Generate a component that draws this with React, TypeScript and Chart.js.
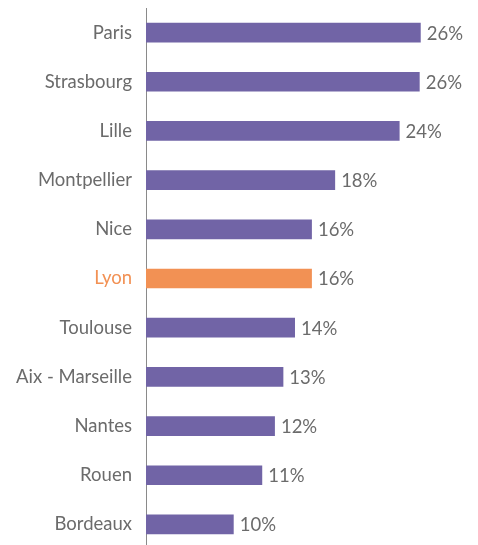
import React, { useEffect, useRef } from "react";
import { Chart, registerables } from "chart.js";

Chart.register(...registerables);

const cities = [
  "Paris",
  "Strasbourg",
  "Lille",
  "Montpellier",
  "Nice",
  "Lyon",
  "Toulouse",
  "Aix - Marseille",
  "Nantes",
  "Rouen",
  "Bordeaux",
];
const shares = [26.0, 25.9, 24.0, 17.9, 15.7, 15.7, 14.1, 13.0, 12.2, 11.0, 8.3];
const shareLabels = ["26%", "26%", "24%", "18%", "16%", "16%", "14%", "13%", "12%", "11%", "10%"];
const highlightCity = "Lyon";

const PURPLE = "#7164A6";
const ORANGE = "#F29154";
const TEXT = "#6b6b6b";
const FONT = "Lato, 'Open Sans', sans-serif";

export default function App() {
  const ref = useRef<HTMLCanvasElement | null>(null);

  useEffect(() => {
    if (!ref.current) return;
    const valueLabels = {
      id: "valueLabels",
      afterDatasetsDraw(chart: any) {
        const ctx = chart.ctx;
        const meta = chart.getDatasetMeta(0);
        ctx.save();
        ctx.font = `18.5px ${FONT}`;
        ctx.fillStyle = TEXT;
        ctx.textAlign = "left";
        ctx.textBaseline = "middle";
        meta.data.forEach((bar: any, i: number) => {
          ctx.fillText(shareLabels[i], bar.x + 6, bar.y + 1);
        });
        ctx.restore();
      },
    };
    const chart = new Chart(ref.current, {
      type: "bar",
      data: {
        labels: cities,
        datasets: [
          {
            data: shares,
            backgroundColor: cities.map((c) => (c === highlightCity ? ORANGE : PURPLE)),
            barPercentage: 0.4,
            categoryPercentage: 1,
          },
        ],
      },
      options: {
        indexAxis: "y",
        animation: false,
        responsive: false,
        layout: { padding: { top: 0, bottom: 0, left: 0, right: 7 } },
        plugins: {
          legend: { display: false },
          tooltip: { enabled: false },
        },
        scales: {
          x: { display: false, min: 0, max: 30 },
          y: {
            afterFit: (scale: any) => {
              scale.width = 138;
              scale.paddingTop = 0;
              scale.paddingBottom = 0;
            },
            grid: { display: false, drawTicks: false },
            border: { display: true, color: "#8a8a8a", width: 1 },
            ticks: {
              padding: 14,
              font: { family: FONT, size: 18.5 },
              color: (ctx: any) => (cities[ctx.index] === highlightCity ? ORANGE : TEXT),
            },
          },
        },
      },
      plugins: [valueLabels],
    });
    return () => chart.destroy();
  }, []);

  return (
    <div>
      <canvas ref={ref} width={462} height={541} style={{ display: "block" }} />
    </div>
  );
}
